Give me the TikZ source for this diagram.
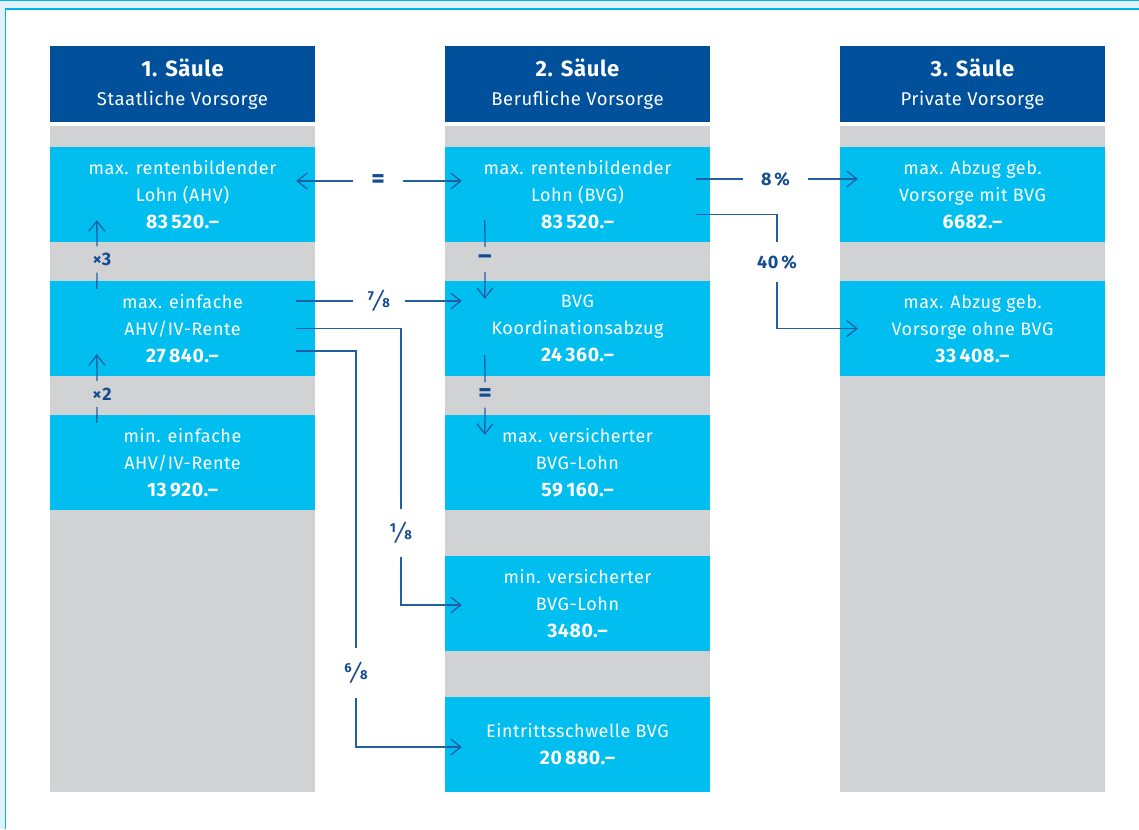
\documentclass[tikz,border=0pt]{standalone}
\usepackage{fontspec}
\setmainfont{Fira Sans}[LetterSpace=3]
\usetikzlibrary{arrows.meta,calc}
\definecolor{kopfblau}{RGB}{0,80,155}
\definecolor{feldblau}{RGB}{0,190,240}
\definecolor{grau}{RGB}{209,210,212}
\definecolor{linienblau}{RGB}{35,95,165}
\definecolor{markenblau}{RGB}{20,75,145}
\definecolor{rahmenhell}{RGB}{224,243,252}
\definecolor{rahmencyan}{RGB}{0,180,235}
\tikzset{
  saeule/.style={fill=kopfblau, text=white, minimum width=265pt, minimum height=76pt,
    inner sep=0pt, align=center, font=\fontsize{18.5}{29}\selectfont},
  feld/.style={fill=feldblau, text=white, minimum width=265pt, minimum height=95pt,
    inner sep=0pt, align=center, font=\fontsize{18}{27}\selectfont},
  linie/.style={draw=linienblau, line width=1.3pt},
  pfeil/.style={linie, -{Straight Barb[length=10pt,width=16pt]}},
  marke/.style={text=markenblau, inner sep=0pt, font=\bfseries\fontsize{18}{18}\selectfont}
}
\newcommand{\betrag}[1]{{\bfseries\fontsize{19.5}{27}\selectfont#1}}
\newcommand{\gross}[1]{{\fontsize{26}{26}\selectfont#1}}
\newcommand{\bruch}[2]{\raisebox{7pt}{\fontsize{13}{13}\selectfont#1}\kern2.5pt\raisebox{-2pt}{\mdseries\fontsize{26}{26}\selectfont ⁄}\kern2.5pt{\fontsize{13}{13}\selectfont#2}}
\begin{document}
\begin{tikzpicture}[x=1pt,y=-1pt]
  \useasboundingbox (0,0) rectangle (1139,829);
  \fill[rahmenhell] (0,0) rectangle (1139,9);
  \fill[rahmenhell] (0,0) rectangle (5,829);
  \draw[rahmencyan, line width=1.5pt] (0,0.75) -- (1139,0.75);
  \draw[rahmencyan, line width=1.5pt] (1139,9) -- (5.5,9) -- (5.5,829);
  \foreach \x in {50,445,840}
    \fill[grau] (\x,126) rectangle ++(265,666);

  \node[saeule] (h1) at (182.5,84) {{\bfseries\fontsize{22}{22}\selectfont 1. Säule}\\Staatliche Vorsorge};
  \node[saeule] (h2) at (577.5,84) {{\bfseries\fontsize{22}{22}\selectfont 2. Säule}\\Berufliche Vorsorge};
  \node[saeule] (h3) at (972.5,84) {{\bfseries\fontsize{22}{22}\selectfont 3. Säule}\\Private Vorsorge};

  \node[feld] (a1) at (182.5,194.5) {max. rentenbildender\\Lohn (AHV)\\\betrag{83\,520.–}};
  \node[feld] (a2) at (182.5,328.5) {max. einfache\\AHV/IV-Rente\\\betrag{27\,840.–}};
  \node[feld] (a3) at (182.5,462.5) {min. einfache\\AHV/IV-Rente\\\betrag{13\,920.–}};
  \node[feld] (b1) at (577.5,194.5) {max. rentenbildender\\Lohn (BVG)\\\betrag{83\,520.–}};
  \node[feld] (b2) at (577.5,328.5) {BVG\\Koordinationsabzug\\\betrag{24\,360.–}};
  \node[feld] (b3) at (577.5,462.5) {max. versicherter\\BVG-Lohn\\\betrag{59\,160.–}};
  \node[feld] (b4) at (577.5,603.5) {min. versicherter\\BVG-Lohn\\\betrag{3480.–}};
  \node[feld] (b5) at (577.5,744.5) {Eintrittsschwelle BVG\\\betrag{20\,880.–}};
  \node[feld] (c1) at (972.5,194.5) {max. Abzug geb.\\Vorsorge mit BVG\\\betrag{6682.–}};
  \node[feld] (c2) at (972.5,328.5) {max. Abzug geb.\\Vorsorge ohne BVG\\\betrag{33\,408.–}};

  \node[marke, minimum width=50pt] (gl) at (378,181) {\gross{=}};
  \node[marke, minimum width=65pt] (pr) at (775.5,179) {8\,\%};
  \node[marke, minimum height=39pt] (pz) at (777,262) {40\,\%};
  \node[marke, minimum width=51pt] (si) at (379,301) {\bruch{7}{8}};
  \node[marke, minimum height=47pt] (eb) at (401,533) {\bruch{1}{8}};
  \node[marke, minimum height=49pt] (sa) at (356,673) {\bruch{6}{8}};
  \node[marke, minimum height=25pt] (mi) at (485,259.5) {\gross{–}};
  \node[marke, minimum height=25pt] (gl2) at (485,395) {\gross{=}};
  \node[marke, minimum height=26pt] (x3) at (97,259.5) {\hspace*{10pt}×3};
  \node[marke, minimum height=26pt] (x2) at (97,394) {\hspace*{10pt}×2};

  \draw[pfeil] (gl.west) -- ($(gl.west -| a1.east)+(-19,0)$);
  \draw[pfeil] (gl.east) -- ($(gl.east -| b1.west)+(17,0)$);
  \draw[linie] ($(pr.west -| b1.east)+(-14,0)$) -- (pr.west);
  \draw[pfeil] (pr.east) -- ($(pr.east -| c1.west)+(18,0)$);
  \draw[linie] ($(b1.south east)+(-14,-28)$) -| (pz.north);
  \draw[pfeil] (pz.south) |- ($(c2.west)+(18,0)$);
  \draw[linie] ($(b1.south west)+(40,-22)$) -- (mi.north);
  \draw[pfeil] (mi.south) -- ($(b2.north west)+(40,18)$);
  \draw[linie] ($(b2.south west)+(40,-21)$) -- (gl2.north);
  \draw[pfeil] (gl2.south) -- ($(b3.north west)+(40,20)$);
  \draw[linie] ($(a2.north west)+(47,8)$) -- (x3.south);
  \draw[pfeil] (x3.north) -- ($(a1.south west)+(47,-22)$);
  \draw[linie] ($(a3.north west)+(47,8)$) -- (x2.south);
  \draw[pfeil] (x2.north) -- ($(a2.south west)+(47,-22)$);
  \draw[linie] ($(si.west -| a2.east)+(-19,0)$) -- (si.west);
  \draw[pfeil] (si.east) -- ($(si.east -| b2.west)+(17,0)$);
  \draw[linie] ($(a2.east)+(-19,0)$) -| (eb.north);
  \draw[pfeil] (eb.south) |- ($(b4.west)+(17,1.5)$);
  \draw[linie] ($(a2.east)+(-19,22.5)$) -| (sa.north);
  \draw[pfeil] (sa.south) |- ($(b5.west)+(17,2.5)$);
\end{tikzpicture}
\end{document}
